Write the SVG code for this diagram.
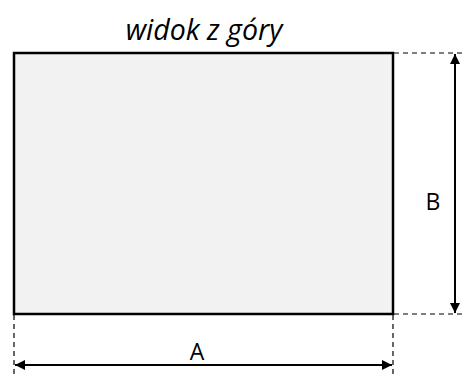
<svg xmlns="http://www.w3.org/2000/svg" width="465" height="376" viewBox="0 0 465 376">
<style>
.dash{stroke:#000;stroke-width:1.2;stroke-dasharray:5,4;fill:none}
.dim{stroke:#000;stroke-width:2;fill:none}
.lbl{font-family:"Open Sans","Liberation Sans",sans-serif;font-size:23px;fill:#000}
</style>
<defs>
<marker id="ah" viewBox="0 0 10 10" refX="10" refY="5" markerWidth="5.5" markerHeight="5" orient="auto-start-reverse" markerUnits="strokeWidth">
<path d="M0,0 L10,5 L0,10 z" fill="#000"/>
</marker>
</defs>
<text x="204" y="40" text-anchor="middle" font-family="'Open Sans','Liberation Sans',sans-serif" font-style="italic" font-size="28.5">widok z góry</text>
<g id="plate">
<rect x="14" y="53" width="379" height="261" fill="#f2f2f2" stroke="#000" stroke-width="2.5"/>
</g>
<g id="connectors">
<line class="dash" x1="394" y1="53" x2="462" y2="53"/>
<line class="dash" x1="394" y1="314" x2="462" y2="314"/>
<line class="dash" x1="14" y1="315" x2="14" y2="376"/>
<line class="dash" x1="393" y1="315" x2="393" y2="376"/>
<line class="dim" x1="455" y1="54" x2="455" y2="313" marker-start="url(#ah)" marker-end="url(#ah)"/>
<line class="dim" x1="15" y1="365" x2="392" y2="365" marker-start="url(#ah)" marker-end="url(#ah)"/>
</g>
<g id="labelB"><text class="lbl" x="433" y="210" text-anchor="middle">B</text></g>
<g id="labelA"><text class="lbl" x="197" y="360" text-anchor="middle">A</text></g>
</svg>
